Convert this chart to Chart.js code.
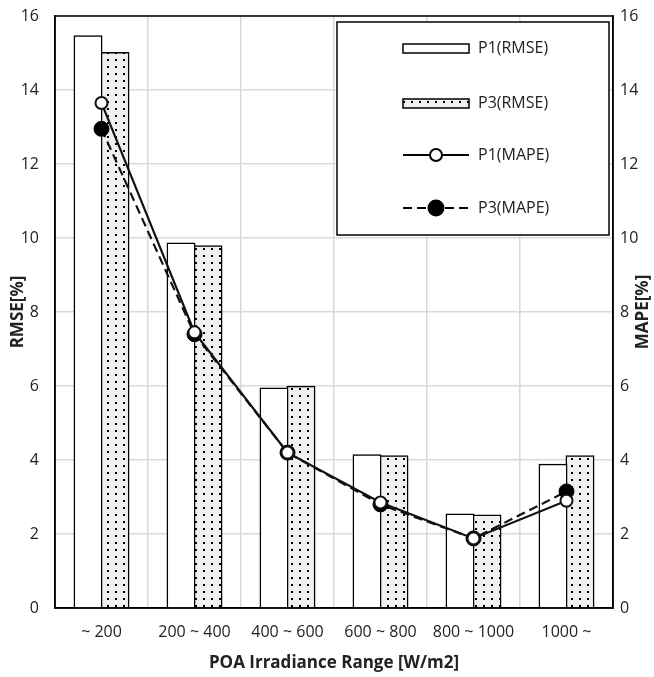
<!DOCTYPE html>
<html>
<head>
<meta charset="utf-8">
<script src="https://cdn.jsdelivr.net/npm/chart.js@4.4.1/dist/chart.umd.min.js"></script>
<style>
  html,body{margin:0;padding:0;background:#fff;}
  #wrap{width:654px;height:677px;position:relative;}
</style>
</head>
<body>
<div id="wrap"><canvas id="c" width="654" height="677"></canvas></div>
<script>
const categories = ["~ 200", "200 ~ 400", "400 ~ 600", "600 ~ 800", "800 ~ 1000", "1000 ~"];
const p1RMSE = [15.45, 9.85, 5.93, 4.13, 2.53, 3.87];
const p3RMSE = [15.0, 9.78, 5.98, 4.10, 2.50, 4.10];
const p1MAPE = [13.65, 7.45, 4.20, 2.85, 1.88, 2.90];
const p3MAPE = [12.95, 7.40, 4.20, 2.80, 1.88, 3.15];
const yTicks = [0, 2, 4, 6, 8, 10, 12, 14, 16];
const titles = { x: 'POA Irradiance Range [W/m2]', yLeft: 'RMSE[%]', yRight: 'MAPE[%]' };

const FONT = "'Open Sans', 'Liberation Sans', sans-serif";

function dotPattern() {
  const c = document.createElement('canvas');
  c.width = 8; c.height = 7;
  const g = c.getContext('2d');
  g.fillStyle = '#f0f0f0';
  g.fillRect(0, 0, 8, 7);
  g.fillStyle = '#000';
  g.fillRect(3, 3, 2, 2);
  return g.createPattern(c, 'repeat');
}
const pattern = dotPattern();

const frame = {
  id: 'frame',
  afterDatasetsDraw(chart) {
    const {ctx, chartArea: a} = chart;
    ctx.save();
    ctx.strokeStyle = '#000';
    ctx.lineWidth = 1.5;
    ctx.strokeRect(a.left, a.top, a.right - a.left, a.bottom - a.top);
    ctx.restore();
  }
};

const axisTitles = {
  id: 'axisTitles',
  afterDraw(chart) {
    const {ctx, chartArea: a} = chart;
    const cy = (a.top + a.bottom) / 2;
    ctx.save();
    ctx.fillStyle = '#222';
    ctx.font = 'bold 17px ' + FONT;
    ctx.textAlign = 'center';
    ctx.textBaseline = 'middle';
    ctx.fillText(titles.x, (a.left + a.right) / 2, 663);
    ctx.save();
    ctx.translate(18, cy); ctx.rotate(-Math.PI / 2);
    ctx.fillText(titles.yLeft, 0, 0);
    ctx.restore();
    ctx.save();
    ctx.translate(643, cy); ctx.rotate(-Math.PI / 2);
    ctx.fillText(titles.yRight, 0, 0);
    ctx.restore();
    ctx.restore();
  }
};

const legendBox = {
  id: 'legendBox',
  afterDraw(chart) {
    const ctx = chart.ctx;
    const ds = chart.data.datasets;
    ctx.save();
    ctx.fillStyle = '#fff';
    ctx.fillRect(337, 22, 272, 213);
    ctx.strokeStyle = '#000';
    ctx.lineWidth = 1.5;
    ctx.strokeRect(337, 22, 272, 213);
    const rows = [48, 103, 155, 208];
    const x0 = 403, x1 = 469;
    ds.forEach((d, i) => {
      const y = rows[i];
      if (d.type === 'bar') {
        ctx.fillStyle = d.backgroundColor;
        ctx.fillRect(x0, y - 4, x1 - x0, 9);
        ctx.strokeStyle = '#000';
        ctx.lineWidth = 1.5;
        ctx.strokeRect(x0, y - 4, x1 - x0, 9);
      } else {
        ctx.strokeStyle = '#000';
        ctx.lineWidth = 2;
        ctx.setLineDash(d.borderDash || []);
        ctx.beginPath(); ctx.moveTo(x0, y); ctx.lineTo(x1, y); ctx.stroke();
        ctx.setLineDash([]);
        ctx.beginPath();
        ctx.arc((x0 + x1) / 2, y, d.pointRadius, 0, Math.PI * 2);
        ctx.fillStyle = d.pointBackgroundColor;
        ctx.fill();
        ctx.lineWidth = 2;
        ctx.stroke();
      }
      ctx.fillStyle = '#222';
      ctx.font = '16px ' + FONT;
      ctx.textBaseline = 'middle';
      ctx.textAlign = 'left';
      ctx.fillText(d.label, 478, y);
    });
    ctx.restore();
  }
};

function fixY(width) {
  return function (s) { s.width = width; s.paddingTop = 0; s.paddingBottom = 0; };
}

new Chart(document.getElementById('c'), {
  data: {
    labels: categories,
    datasets: [
      { type: 'bar', label: 'P1(RMSE)', data: p1RMSE, yAxisID: 'y',
        backgroundColor: '#ffffff', borderColor: '#000', borderWidth: 1.5, inflateAmount: 1,
        barPercentage: 1.0, categoryPercentage: 0.58, order: 2 },
      { type: 'bar', label: 'P3(RMSE)', data: p3RMSE, yAxisID: 'y',
        backgroundColor: pattern, borderColor: '#000', borderWidth: 1.5, inflateAmount: 1,
        barPercentage: 1.0, categoryPercentage: 0.58, order: 2 },
      { type: 'line', label: 'P1(MAPE)', data: p1MAPE, yAxisID: 'y2',
        borderColor: '#111', borderWidth: 2.2, pointRadius: 6, pointHoverRadius: 6,
        pointBackgroundColor: '#fff', pointBorderColor: '#111', pointBorderWidth: 2,
        tension: 0, fill: false, order: 0 },
      { type: 'line', label: 'P3(MAPE)', data: p3MAPE, yAxisID: 'y2',
        borderColor: '#111', borderWidth: 2.2, borderDash: [9, 5], pointRadius: 7.5, pointHoverRadius: 7.5,
        pointBackgroundColor: '#000', pointBorderColor: '#000', pointBorderWidth: 1,
        tension: 0, fill: false, order: 1 }
    ]
  },
  options: {
    responsive: false,
    animation: false,
    layout: { padding: { top: 16, bottom: 24, left: 0, right: 0 } },
    plugins: { legend: { display: false }, tooltip: { enabled: false } },
    scales: {
      x: {
        offset: true,
        grid: { display: true, offset: true, color: '#d9d9d9', lineWidth: 1.5, drawTicks: false },
        border: { display: true, color: '#000', width: 1.5 },
        ticks: { color: '#222', font: { family: FONT, size: 16 }, padding: 15, maxRotation: 0, autoSkip: false },
        afterFit(s) { s.height = 45; s.paddingLeft = 0; s.paddingRight = 0; }
      },
      y: {
        position: 'left', min: 0, max: 16,
        afterBuildTicks(s) { s.ticks = yTicks.map(v => ({ value: v })); },
        afterFit: fixY(55),
        grid: { color: '#d9d9d9', lineWidth: 1.5, drawTicks: false },
        border: { display: true, color: '#000', width: 1.5 },
        ticks: { color: '#222', font: { family: FONT, size: 16 }, padding: 16 }
      },
      y2: {
        position: 'right', min: 0, max: 16,
        afterBuildTicks(s) { s.ticks = yTicks.map(v => ({ value: v })); },
        afterFit: fixY(41),
        grid: { display: false, drawTicks: false },
        border: { display: true, color: '#000', width: 1.5 },
        ticks: { color: '#222', font: { family: FONT, size: 16 }, padding: 7 }
      }
    }
  },
  plugins: [frame, axisTitles, legendBox]
});
</script>
</body>
</html>
